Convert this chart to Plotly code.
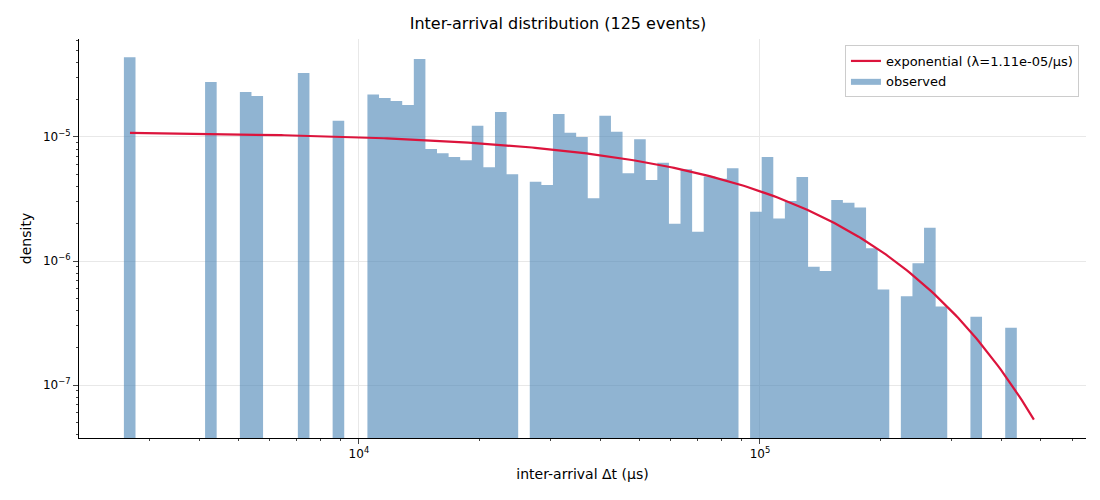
import numpy as np
import plotly.graph_objects as go

lam = 1.11e-5
t_min, t_max = 2686, 482000
edge_lo, edge_hi = 2594, 437000
heights = [4.4e-5,0,0,0,0,0,0,2.77e-5,0,0,2.3e-5,2.14e-5,0,0,0,3.28e-5,0,0,1.35e-5,0,0,
           2.2e-5,2.06e-5,1.95e-5,1.81e-5,4.25e-5,8.0e-6,7.4e-6,6.9e-6,6.5e-6,1.23e-5,5.7e-6,1.59e-5,5.0e-6,0,
           4.35e-6,4.1e-6,1.53e-5,1.08e-5,1.0e-5,3.2e-6,1.48e-5,1.1e-5,5.1e-6,9.6e-6,4.5e-6,6.2e-6,2.0e-6,
           5.5e-6,1.72e-6,4.8e-6,4.6e-6,5.6e-6,0,2.5e-6,6.9e-6,2.2e-6,3.05e-6,4.75e-6,9.0e-7,8.3e-7,3.1e-6,
           2.95e-6,2.7e-6,1.27e-6,5.9e-7,0,5.2e-7,9.6e-7,1.85e-6,4.3e-7,0,0,3.55e-7,0,0,2.9e-7]

edges = np.logspace(np.log10(edge_lo), np.log10(edge_hi), len(heights) + 1)
base = 1e-9
bx, by = [], []
for i, h in enumerate(heights):
    if h <= 0:
        continue
    l, r = edges[i], edges[i + 1]
    bx += [l, l, r, r, l, None]
    by += [base, h, h, base, base, None]

t = np.logspace(np.log10(t_min), np.log10(t_max), 300)
pdf = lam * np.exp(-lam * t)

fig = go.Figure()
fig.add_trace(go.Scatter(x=bx, y=by, fill="toself", mode="lines", line=dict(width=0),
                         fillcolor="rgba(70,130,180,0.6)", name="observed"))
fig.add_trace(go.Scatter(x=t, y=pdf, mode="lines", line=dict(color="#dc143c", width=2.2),
                         name="exponential (λ=1.11e-05/µs)"))

minor_x = [m * 10**e for e in (3, 4, 5) for m in range(2, 10)]
fig.update_layout(
    width=1100, height=500, plot_bgcolor="white", paper_bgcolor="white",
    font=dict(family="DejaVu Sans", size=12, color="black"),
    title=dict(text="Inter-arrival distribution (125 events)", x=0.5, xanchor="center",
               y=0.98, font=dict(size=16)),
    margin=dict(l=71, r=22, t=31, b=70, autoexpand=False),
    legend=dict(x=0.993, y=0.985, xanchor="right", yanchor="top", bordercolor="#cccccc",
                borderwidth=1, font=dict(size=13), bgcolor="rgba(255,255,255,0.8)",
                traceorder="reversed"),
    xaxis=dict(type="log", range=[3.302, 5.813], title=dict(text="inter-arrival Δt (µs)", standoff=8),
               automargin=False,
               tickvals=[1e4, 1e5], ticktext=["10<sup>4</sup>", "10<sup>5</sup>"],
               showgrid=True, gridcolor="#e8e8e8", showline=True, linecolor="black", ticks="outside",
               minor=dict(tickvals=minor_x, ticks="outside", ticklen=2, showgrid=False), zeroline=False),
    yaxis=dict(type="log", range=[-7.427, -4.21], title=dict(text="density", standoff=8),
               automargin=False,
               tickvals=[1e-7, 1e-6, 1e-5], ticktext=["10<sup>−7</sup>", "10<sup>−6</sup>", "10<sup>−5</sup>"],
               showgrid=True, gridcolor="#e8e8e8", showline=True, linecolor="black", ticks="outside",
               minor=dict(tickvals=[m * 10**e for e in (-8, -7, -6, -5) for m in range(2, 10)],
                          ticks="outside", ticklen=2, showgrid=False), zeroline=False),
)
fig.write_html("out.html")
